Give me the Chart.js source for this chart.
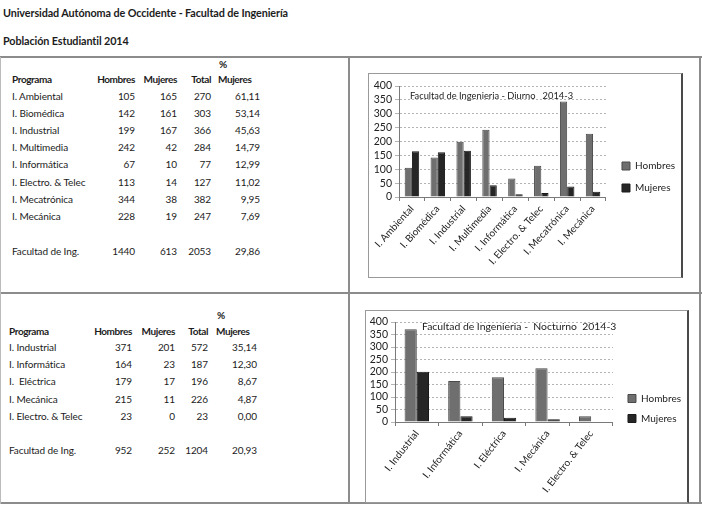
<!DOCTYPE html>
<html>
<head>
<meta charset="utf-8">
<script src="https://cdn.jsdelivr.net/npm/chart.js@4"></script>
<style>
  html, body { margin: 0; padding: 0; background: #fff; }
  body { width: 702px; height: 506px; position: relative; overflow: hidden;
         font-family: Lato, "Open Sans", sans-serif; color: #1c1c1c; }
  .t { position: absolute; white-space: pre; font-size: 10px; line-height: 13px; transform: translateY(-50%); letter-spacing: -0.1px; }
  .b { font-weight: bold; letter-spacing: -0.4px; }
  .r { transform: translate(-100%, -50%); }
  .ln { position: absolute; background: #8c8c8c; }
  .frame { position: absolute; border: 1px solid #9a9a9a; border-right: 2px solid #4a4a4a; box-sizing: border-box; }
  .cv { position: absolute; }
</style>
</head>
<body>
<div class="t b" style="left:3px;top:12px;font-size:10.8px;letter-spacing:-0.1px">Universidad Autónoma de Occidente - Facultad de Ingeniería</div>
<div class="t b" style="left:3px;top:40px;font-size:10.8px;letter-spacing:-0.1px">Población Estudiantil 2014</div>

<div class="ln" style="left:0;top:56px;width:702px;height:2px"></div>
<div class="ln" style="left:0;top:292px;width:702px;height:2px"></div>
<div class="ln" style="left:0;top:502px;width:702px;height:2px"></div>
<div class="ln" style="left:0;top:57px;width:1px;height:447px;background:#bbb"></div>
<div class="ln" style="left:348px;top:57px;width:2px;height:447px"></div>
<div class="ln" style="left:699px;top:57px;width:2px;height:447px"></div>

<div class="frame" style="left:368px;top:73px;width:315px;height:205px"></div>
<div class="frame" style="left:365px;top:310px;width:324px;height:193px"></div>

<div class="cv" style="left:369px;top:74px;width:312px;height:202px"><canvas id="diurno"></canvas></div>
<div class="cv" style="left:366px;top:311px;width:321px;height:190px"><canvas id="nocturno"></canvas></div>

<div id="tablas"></div>

<script>
// ---- datos: diurno 2014-3
const diurnoProgramas = ["I. Ambiental", "I. Biomédica", "I. Industrial", "I. Multimedia",
  "I. Informática", "I. Electro. & Telec", "I. Mecatrónica", "I. Mecánica"];
const diurnoHombres = [105, 142, 199, 242, 67, 113, 344, 228];
const diurnoMujeres = [165, 161, 167, 42, 10, 14, 38, 19];
const diurnoTotal = [270, 303, 366, 284, 77, 127, 382, 247];
const diurnoPct = ["61,11", "53,14", "45,63", "14,79", "12,99", "11,02", "9,95", "7,69"];
const diurnoFacultad = ["Facultad de Ing.", "1440", "613", "2053", "29,86"];

// ---- datos: nocturno 2014-3
const nocturnoProgramas = ["I. Industrial", "I. Informática", "I. Eléctrica", "I. Mecánica", "I. Electro. & Telec"];
const nocturnoHombres = [371, 164, 179, 215, 23];
const nocturnoMujeres = [201, 23, 17, 11, 0];
const nocturnoTotal = [572, 187, 196, 226, 23];
const nocturnoPct = ["35,14", "12,30", "8,67", "4,87", "0,00"];
const nocturnoFacultad = ["Facultad de Ing.", "952", "252", "1204", "20,93"];

const yTicks = [0, 50, 100, 150, 200, 250, 300, 350, 400];

// ---- tablas (texto HTML)
const box = document.getElementById("tablas");
function cell(txt, x, y, cls) {
  const d = document.createElement("div");
  d.className = "t " + (cls || "");
  d.style.left = x + "px";
  d.style.top = y + "px";
  d.textContent = txt;
  box.appendChild(d);
}
function tabla(g, prog, h, m, t, p, fac) {
  cell("%", g.pctL + 1, g.yPct, "b");
  cell("Programa", g.x0, g.yHead, "b");
  cell("Hombres", g.cols[0], g.yHead, "b r");
  cell("Mujeres", g.cols[1], g.yHead, "b r");
  cell("Total", g.cols[2], g.yHead, "b r");
  cell("Mujeres", g.pctL, g.yHead, "b");
  prog.forEach((name, i) => {
    const y = g.y0 + g.dy * i;
    cell(name, g.x0, y);
    cell(String(h[i]), g.cols[0], y, "r");
    cell(String(m[i]), g.cols[1], y, "r");
    cell(String(t[i]), g.cols[2], y, "r");
    cell(p[i], g.cols[3], y, "r");
  });
  cell(fac[0], g.x0, g.yFac);
  fac.slice(1).forEach((v, k) => cell(v, g.cols[k], g.yFac, "r"));
}
tabla({ x0: 12, cols: [135, 177, 211, 260], pctL: 218, yPct: 64, yHead: 79, y0: 96, dy: 17.1, yFac: 251 },
  diurnoProgramas, diurnoHombres, diurnoMujeres, diurnoTotal, diurnoPct, diurnoFacultad);
tabla({ x0: 9, cols: [132, 175, 208, 257], pctL: 216, yPct: 315, yHead: 331, y0: 347, dy: 17.2, yFac: 450 },
  ["I. Industrial", "I. Informática", "I.  Eléctrica", "I. Mecánica", "I. Electro. & Telec"],
  nocturnoHombres, nocturnoMujeres, nocturnoTotal, nocturnoPct, nocturnoFacultad);

// ---- graficos
Chart.defaults.font.family = "Lato, 'Open Sans', sans-serif";
Chart.defaults.color = "#1c1c1c";

// titulo dentro del area de trazado (como en Excel)
const tituloDentro = {
  id: "tituloDentro",
  afterDatasetsDraw(chart, args, o) {
    const a = chart.chartArea, ctx = chart.ctx;
    ctx.save();
    ctx.font = o.font;
    ctx.fillStyle = "#1c1c1c";
    ctx.textBaseline = "middle";
    ctx.fillText(o.text, a.left + o.dx, a.top + o.dy);
    ctx.restore();
  },
};

// mueve la leyenda un poco a la derecha del area de trazado
const leyendaPos = {
  id: "leyendaPos",
  afterLayout(chart, args, o) {
    const L = chart.legend;
    if (!L) return;
    const dx = chart.chartArea.right + o.boxX - (L.left + L.options.labels.padding);
    L.left += dx; L.right += dx;
    L.top += o.dy; L.bottom += o.dy;
  },
};

function grafico(id, labels, hombres, mujeres, g) {
  new Chart(document.getElementById(id), {
    type: "bar",
    data: {
      labels,
      datasets: [
        { label: "Hombres", data: hombres, backgroundColor: "#6f6f6f", borderColor: "#4a4a4a", borderWidth: 1 },
        { label: "Mujeres", data: mujeres, backgroundColor: "#262626", borderColor: "#1a1a1a", borderWidth: 1 },
      ],
    },
    options: {
      responsive: true,
      maintainAspectRatio: false,
      animation: false,
      datasets: { bar: { categoryPercentage: 0.56, barPercentage: 1 } },
      layout: { padding: { top: g.top, left: 0, right: g.padRight, bottom: 0 } },
      scales: {
        y: {
          min: 0, max: 400,
          afterBuildTicks: (s) => { s.ticks = yTicks.map((v) => ({ value: v })); },
          afterFit: (s) => { s.width = g.left; },
          ticks: { font: { size: 10.5 }, padding: 3, color: "#222", autoSkip: false },
          grid: { color: "#b4b4b4", tickLength: 4 },
          border: { color: "#7a7a7a", dash: [2, 2] },
        },
        x: {
          afterFit: (s) => { s.height = g.xh; },
          ticks: { font: { size: 10 }, minRotation: g.rot, maxRotation: g.rot, padding: 2, color: "#222", autoSkip: false },
          grid: { offset: true, drawOnChartArea: false, tickLength: 4, color: "#7a7a7a" },
          border: { color: "#7a7a7a" },
        },
      },
      plugins: {
        legend: {
          position: "right",
          labels: { boxWidth: 8, boxHeight: 8, padding: g.legPad, font: { size: 10 }, color: "#222" },
        },
        tooltip: { enabled: false },
        tituloDentro: { text: g.title, font: g.titleFont, dx: g.tdx, dy: g.tdy },
        leyendaPos: { boxX: g.boxX, dy: g.ldy },
      },
    },
    plugins: [tituloDentro, leyendaPos],
  });
}

grafico("diurno", diurnoProgramas, diurnoHombres, diurnoMujeres,
  { top: 12, left: 30, xh: 79, padRight: 0, legPad: 12, rot: 48, boxX: 16, ldy: -4,
    title: "Facultad de Ingenieria - Diurno   2014-3", titleFont: "9.3px Lato, sans-serif", tdx: 11, tdy: 10 });
grafico("nocturno", nocturnoProgramas, nocturnoHombres, nocturnoMujeres,
  { top: 11, left: 29, xh: 79, padRight: 1, legPad: 10, rot: 52, boxX: 15, ldy: -3,
    title: "Facultad de Ingenieria -  Nocturno  2014-3", titleFont: "10.4px Lato, sans-serif", tdx: 27, tdy: 5 });
</script>
</body>
</html>
